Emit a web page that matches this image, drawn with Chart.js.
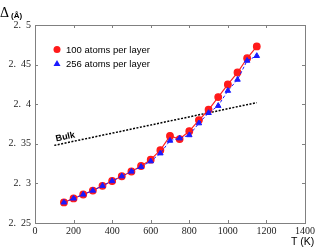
<!DOCTYPE html>
<html><head><meta charset="utf-8">
<script src="https://cdn.jsdelivr.net/npm/chart.js@4/dist/chart.umd.min.js"></script>
<style>html,body{margin:0;padding:0;background:#fff;}canvas{display:block;}</style>
</head><body>
<canvas id="c" width="319" height="247"></canvas>
<script>
const temps = [150,200,250,300,350,400,450,500,550,600,650,700,750,800,850,900,950,1000,1050,1100,1150];
const atoms100 = [2.276,2.281,2.286,2.291,2.297,2.303,2.309,2.315,2.322,2.330,2.342,2.360,2.356,2.366,2.380,2.393,2.409,2.425,2.440,2.458,2.473];
const atoms256 = [2.276,2.281,2.286,2.291,2.297,2.303,2.309,2.315,2.321,2.328,2.338,2.354,2.357,2.361,2.376,2.389,2.398,2.417,2.431,2.455,2.461];
const bulkT = [100,1150];
const bulkVal = [2.348,2.402];
const seriesLabels = ['100 atoms per layer','256 atoms per layer'];
const xTicks = [0,200,400,600,800,1000,1200,1400];
const yTicks = [2.25,2.3,2.35,2.4,2.45,2.5];

const pts = (xs, ys) => xs.map((x,i)=>({x:x,y:ys[i]}));

const overlay = {
  id:'overlay',
  afterDraw(chart){
    const ctx = chart.ctx, a = chart.chartArea;
    const xs = chart.scales.x, ys = chart.scales.y;
    ctx.save();
    ctx.strokeStyle = '#808080'; ctx.lineWidth = 1;
    ctx.strokeRect(Math.round(a.left)+0.5, Math.round(a.top)+0.5, Math.round(a.right-a.left), Math.round(a.bottom-a.top));
    ctx.beginPath();
    xTicks.forEach(t=>{ const px = Math.round(xs.getPixelForValue(t))+0.5;
      ctx.moveTo(px, a.bottom); ctx.lineTo(px, a.bottom-3);
      ctx.moveTo(px, a.top); ctx.lineTo(px, a.top+3); });
    yTicks.forEach(t=>{ const py = Math.round(ys.getPixelForValue(t))+0.5;
      ctx.moveTo(a.left, py); ctx.lineTo(a.left+3, py);
      ctx.moveTo(a.right, py); ctx.lineTo(a.right-3, py); });
    ctx.stroke();
    ctx.fillStyle = '#000';
    ctx.textBaseline = 'alphabetic'; ctx.textAlign = 'left';
    ctx.font = '14px "Liberation Serif", serif';
    ctx.fillText('Δ', 0, 17);
    ctx.font = 'bold 8px "Liberation Sans", Arial, sans-serif';
    ctx.fillText('(Å)', 11, 18);
    ctx.font = '10.5px "Liberation Sans", Arial, sans-serif';
    ctx.fillText('T (K)', 291, 245);
    const ds = chart.data.datasets;
    const red = ds.find(d=>d.label===seriesLabels[0]);
    const blue = ds.find(d=>d.label===seriesLabels[1]);
    ctx.font = '9.5px "Liberation Sans", Arial, sans-serif';
    ctx.fillStyle = red.pointBackgroundColor;
    ctx.beginPath(); ctx.arc(57, 49.5, 3.5, 0, Math.PI*2); ctx.fill();
    ctx.fillStyle = '#000'; ctx.fillText(red.label, 66, 53);
    ctx.fillStyle = blue.pointBackgroundColor;
    ctx.beginPath(); ctx.moveTo(57, 60); ctx.lineTo(60.5, 66); ctx.lineTo(53.5, 66); ctx.closePath(); ctx.fill();
    ctx.fillStyle = '#000'; ctx.fillText(blue.label, 66, 67);
    const bx = xs.getPixelForValue(bulkT[0]), by = ys.getPixelForValue(bulkVal[0]);
    const ex = xs.getPixelForValue(bulkT[1]), ey = ys.getPixelForValue(bulkVal[1]);
    const ang = Math.atan2(ey-by, ex-bx);
    ctx.translate(bx+2, by-4); ctx.rotate(ang);
    ctx.font = 'bold 9px "Liberation Sans", Arial, sans-serif';
    ctx.fillText('Bulk', 0, 0);
    ctx.restore();
  }
};

new Chart(document.getElementById('c'), {
  type:'line',
  data:{ datasets:[
    { label:seriesLabels[1], data:pts(temps, atoms256), borderColor:'#1a1aff', backgroundColor:'#1a1aff',
      pointBackgroundColor:'#1a1aff', pointBorderColor:'#1a1aff', pointStyle:'triangle', pointRadius:3.2,
      borderWidth:1, borderDash:[3,2], order:0, tension:0 },
    { label:seriesLabels[0], data:pts(temps, atoms100), borderColor:'#ff2020', backgroundColor:'#ff1a1a',
      pointBackgroundColor:'#ff1a1a', pointBorderColor:'#ff1a1a', pointStyle:'circle', pointRadius:3.3,
      borderWidth:1.2, order:1, tension:0 },
    { label:'Bulk', data:pts(bulkT, bulkVal), borderColor:'#000', borderWidth:1.5, borderDash:[2,1.5],
      pointRadius:0, order:2 }
  ]},
  options:{
    responsive:false, animation:false, devicePixelRatio:1,
    layout:{ padding:{ top:25, right:14, left:0, bottom:0 } },
    plugins:{ legend:{display:false}, tooltip:{enabled:false} },
    scales:{
      x:{ type:'linear', min:0, max:1400,
        afterBuildTicks(s){ s.ticks = xTicks.map(v=>({value:v})); },
        afterFit(s){ s.height = 24; },
        grid:{ drawOnChartArea:false, drawTicks:false }, border:{display:false},
        ticks:{ padding:2, color:'#222', font:{ family:'"Liberation Serif", serif', size:10 }, maxRotation:0,
          callback:v=>String(v) } },
      y:{ type:'linear', min:2.25, max:2.5,
        afterBuildTicks(s){ s.ticks = yTicks.map(v=>({value:v})); },
        afterFit(s){ s.width = 35; },
        grid:{ drawOnChartArea:false, drawTicks:false }, border:{display:false},
        ticks:{ padding:4, color:'#222', font:{ family:'"Liberation Serif", serif', size:10 },
          callback:v=>(Math.round(v*100)/100).toString().replace('.', '.  ') } }
    }
  },
  plugins:[overlay]
});
</script>
</body></html>
